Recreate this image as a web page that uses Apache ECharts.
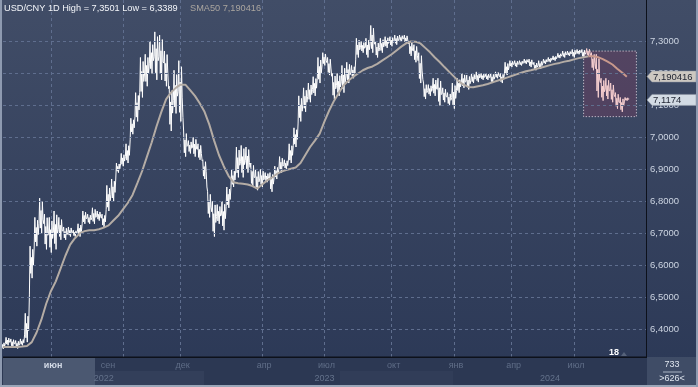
<!DOCTYPE html>
<html><head><meta charset="utf-8">
<script src="https://cdn.jsdelivr.net/npm/echarts/dist/echarts.min.js"></script>
<style>html,body{margin:0;padding:0;background:#2c3957;overflow:hidden}#c{width:698px;height:387px}</style>
</head><body><div id="c"></div>
<script>
// ---------- DATA ----------
const startWeek = '2022-03-21';
const weekCount = 135;
const highs = [
6.360,6.375,6.370,6.365,6.370,6.450,6.660,6.750,6.810,6.760,
6.750,6.770,6.750,6.720,6.720,6.710,6.730,6.770,6.760,6.780,
6.770,6.760,6.850,6.870,6.920,6.950,6.980,7.060,7.140,7.250,
7.260,7.300,7.330,7.320,7.270,7.160,7.210,7.240,7.020,6.990,
7.000,6.980,6.930,6.830,6.800,6.790,6.800,6.845,6.900,6.970,
6.975,6.970,6.920,6.900,6.900,6.890,6.890,6.910,6.940,6.930,
6.980,7.030,7.130,7.155,7.170,7.190,7.250,7.265,7.250,7.200,
7.200,7.225,7.235,7.225,7.310,7.300,7.310,7.350,7.300,7.310,
7.315,7.315,7.320,7.320,7.320,7.300,7.290,7.265,7.170,7.165,
7.185,7.185,7.155,7.140,7.170,7.185,7.200,7.195,7.200,7.205,
7.200,7.200,7.200,7.205,7.200,7.235,7.240,7.240,7.240,7.245,
7.245,7.235,7.240,7.245,7.250,7.255,7.263,7.270,7.270,7.275,
7.275,7.275,7.278,7.265,7.260,7.185,7.185,7.170,7.140,7.125,
7.125];
const lows = [
6.339,6.350,6.345,6.340,6.350,6.360,6.560,6.660,6.700,6.650,
6.640,6.650,6.680,6.680,6.690,6.690,6.690,6.730,6.730,6.730,
6.740,6.720,6.770,6.800,6.890,6.910,6.920,7.010,7.050,7.125,
7.160,7.200,7.180,7.180,7.160,7.020,7.075,7.050,6.940,6.950,
6.940,6.930,6.870,6.750,6.690,6.730,6.710,6.780,6.845,6.875,
6.875,6.890,6.845,6.835,6.845,6.860,6.830,6.870,6.890,6.900,
6.920,6.970,7.050,7.080,7.110,7.130,7.170,7.225,7.195,7.120,
7.130,7.140,7.170,7.185,7.250,7.265,7.250,7.265,7.250,7.265,
7.280,7.285,7.290,7.300,7.295,7.255,7.235,7.170,7.120,7.130,
7.130,7.100,7.110,7.100,7.090,7.140,7.155,7.150,7.170,7.173,
7.180,7.180,7.170,7.185,7.170,7.195,7.220,7.220,7.225,7.230,
7.220,7.210,7.215,7.230,7.235,7.240,7.248,7.250,7.255,7.250,
7.260,7.250,7.255,7.210,7.125,7.115,7.120,7.110,7.090,7.080,
7.115];
const sma50 = [
6.345,6.345,6.345,6.345,6.346,6.348,6.360,6.390,6.430,6.480,
6.520,6.550,6.590,6.630,6.665,6.685,6.700,6.707,6.710,6.710,
6.713,6.718,6.725,6.740,6.755,6.775,6.795,6.820,6.857,6.895,
6.940,6.985,7.035,7.080,7.120,7.140,7.155,7.165,7.165,7.148,
7.130,7.107,7.080,7.040,6.990,6.945,6.910,6.880,6.860,6.857,
6.855,6.853,6.848,6.840,6.853,6.865,6.874,6.885,6.893,6.898,
6.902,6.906,6.920,6.945,6.970,6.990,7.012,7.050,7.085,7.115,
7.140,7.163,7.178,7.190,7.200,7.210,7.217,7.222,7.230,7.240,
7.250,7.260,7.272,7.284,7.294,7.300,7.299,7.294,7.280,7.266,
7.250,7.236,7.220,7.205,7.190,7.175,7.165,7.158,7.157,7.160,
7.163,7.167,7.172,7.177,7.182,7.187,7.192,7.197,7.202,7.207,
7.210,7.214,7.218,7.222,7.226,7.230,7.233,7.237,7.240,7.244,
7.248,7.251,7.254,7.254,7.251,7.245,7.237,7.228,7.215,7.203,
7.190];
const lastPrice = 7.1174;
const smaLast = 7.190416;
const periodHigh = 7.3501;
const periodLow = 6.3389;
const gridValues = [6.4,6.5,6.6,6.7,6.8,6.9,7.0,7.1,7.2,7.3];
const monthTickIdx = [10,25,37,54,67,81,94,106,119];
const monthLabels = ['июн','сен','дек','апр','июл','окт','янв','апр','июл'];
const yearTickIdx = [21,67,114];
const yearLabels = ['2022','2023','2024'];
const boxStartIdx = 121, boxEndIdx = 132, boxHigh = 7.27, boxLow = 7.065;
const barsTotal = '733', barsVisible = '>626<', counterText = '18';

// ---------- BUILD ----------
const categories = [];
{ const d0 = new Date(startWeek + 'T00:00:00Z');
  for (let i = 0; i < weekCount; i++) {
    const d = new Date(d0.getTime() + i * 7 * 86400000);
    categories.push(d.toISOString().slice(0, 10));
  } }
const fmt = v => v.toFixed(4).replace('.', ',');
const FONT = 'Liberation Sans, Arial, sans-serif';
const chart = echarts.init(document.getElementById('c'), null, {renderer: 'canvas'});
const splitAt = boxStartIdx + 1;
const smaMain = sma50.map((v, i) => i <= splitAt ? v : null);
const smaBox = sma50.map((v, i) => i >= splitAt ? v : null);
const mids = highs.map((h, i) => (h + lows[i]) / 2);

const option = {
  animation: false,
  backgroundColor: new echarts.graphic.LinearGradient(0, 0, 0, 1, [
    {offset: 0, color: '#414d67'}, {offset: 1, color: '#2b3856'}]),
  grid: {left: 3, right: 52, top: 0, bottom: 25.7, containLabel: false, outerBoundsMode: 'none'},
  xAxis: {
    type: 'category', data: categories, boundaryGap: false,
    axisLine: {show: false}, axisTick: {show: false}, axisLabel: {show: false},
    splitLine: {show: true, interval: (idx) => monthTickIdx.includes(idx),
      lineStyle: {color: '#5f6e8e', type: [3, 3], width: 1}}
  },
  yAxis: {
    type: 'value', position: 'right', min: 6.3, max: 7.4297, interval: 0.1,
    axisLine: {show: false}, axisTick: {show: false}, splitLine: {show: false},
    axisLabel: {margin: 4, color: '#cdd5e2', fontSize: 9.5, fontFamily: FONT,
      formatter: v => (v < 6.35 || v > 7.35) ? '' : fmt(v)}
  },
  series: [
    { type: 'line', data: gridValues.map(() => null), silent: true, z: 1, showSymbol: false,
      markLine: {silent: true, symbol: ['none', 'none'], label: {show: false},
        lineStyle: {color: '#5f6e8e', type: [3, 3], width: 1},
        data: gridValues.map(v => ({yAxis: v}))},
      markArea: {silent: true,
        itemStyle: {color: 'rgba(112,60,92,0.42)', borderColor: '#e6dfe8', borderWidth: 1, borderType: [1, 2]},
        data: [[{xAxis: categories[boxStartIdx], yAxis: boxHigh}, {xAxis: categories[boxEndIdx], yAxis: boxLow}]]}
    },
    { type: 'custom', z: 3,
      data: highs.map((h, i) => [i, h, lows[i]]),
      encode: {x: 0, y: [1, 2]},
      renderItem: (params, api) => {
        const i = api.value(0);
        const pH = api.coord([i, api.value(1)]);
        const pL = api.coord([i, api.value(2)]);
        const w = api.size([1, 0])[0];
        const yv = v => api.coord([i, v])[1];
        const prevM = i > 0 ? mids[i - 1] : mids[i];
        const nextM = i < mids.length - 1 ? mids[i + 1] : mids[i];
        const s = yv((mids[i] + prevM) / 2), e = yv((mids[i] + nextM) / 2);
        const x = pH[0], h = pH[1], l = pL[1];
        const mix = (a, b, t) => a + (b - a) * t;
        const pts = [[x - w / 2, s], [x - 0.36 * w, h], [x - 0.22 * w, mix(l, h, 0.15)],
          [x - 0.08 * w, mix(h, l, 0.35)], [x + 0.06 * w, l], [x + 0.2 * w, mix(h, l, 0.1)],
          [x + 0.34 * w, mix(l, h, 0.4)], [x + w / 2, e]];
        return {type: 'polyline', shape: {points: pts},
          style: {stroke: i > boxStartIdx ? '#f7cfd0' : '#ffffff', lineWidth: 1, fill: null}};
      }
    },
    { type: 'line', data: smaMain, showSymbol: false, symbol: 'none', z: 4, connectNulls: false,
      lineStyle: {width: 2, color: '#b4aca5'} },
    { type: 'line', data: smaBox, showSymbol: false, symbol: 'none', z: 4, connectNulls: false,
      lineStyle: {width: 2, color: '#c8988c'} }
  ]
};
chart.setOption(option);

const g = [];
try {
const X = i => chart.convertToPixel({xAxisIndex: 0}, categories[i]);
const Y = v => chart.convertToPixel({yAxisIndex: 0}, v);
const Z = 100;
g.push({type: 'rect', z: Z, shape: {x: 0, y: 357, width: 647, height: 30}, style: {fill: '#2c3853'}});
g.push({type: 'rect', z: Z, shape: {x: 3, y: 358, width: 92, height: 27}, style: {fill: '#4b5871'}});
g.push({type: 'rect', z: Z, shape: {x: 95, y: 371, width: 109, height: 14}, style: {fill: '#333f5a'}});
g.push({type: 'rect', z: Z, shape: {x: 340, y: 371, width: 113, height: 14}, style: {fill: '#313d58'}});
g.push({type: 'rect', z: Z, shape: {x: 3, y: 356.5, width: 644, height: 1.5}, style: {fill: '#0d111b'}});
g.push({type: 'rect', z: Z, shape: {x: 646, y: 0, width: 1, height: 358}, style: {fill: '#0d111b'}});
g.push({type: 'rect', z: Z, shape: {x: 647, y: 357, width: 51, height: 30}, style: {fill: '#3f4c66'}});
g.push({type: 'text', z: Z + 1, style: {x: 672, y: 365, text: barsTotal, fill: '#dfe5ee', font: '9px ' + FONT, align: 'center', verticalAlign: 'middle'}});
g.push({type: 'rect', z: Z + 1, shape: {x: 663, y: 371.5, width: 19, height: 1}, style: {fill: '#aab4c4'}});
g.push({type: 'text', z: Z + 1, style: {x: 672, y: 379, text: barsVisible, fill: '#dfe5ee', font: '9px ' + FONT, align: 'center', verticalAlign: 'middle'}});
monthTickIdx.forEach((idx, k) => {
  const dx = k === 1 ? -15 : 2;
  g.push({type: 'text', z: Z + 1, style: {x: X(idx) + dx, y: 366, text: monthLabels[k],
    fill: k === 0 ? '#d3dae6' : '#5f6d87', font: (k === 0 ? 'bold ' : '') + '9px ' + FONT, align: 'center', verticalAlign: 'middle'}});
});
yearTickIdx.forEach((idx, k) => {
  g.push({type: 'text', z: Z + 1, style: {x: X(idx), y: 378.5, text: yearLabels[k],
    fill: '#64728b', font: '9px ' + FONT, align: 'center', verticalAlign: 'middle'}});
});
g.push({type: 'text', z: Z + 1, style: {x: 614, y: 352.5, text: counterText, fill: '#ffffff', font: 'bold 9px ' + FONT, align: 'center', verticalAlign: 'middle'}});
g.push({type: 'polygon', z: Z + 1, shape: {points: [[621, 356], [627, 356], [624, 352]]}, style: {fill: '#56627a'}});
g.push({type: 'text', z: Z + 1, style: {x: 4, y: 8, text: 'USD/CNY 1D High = ' + fmt(periodHigh) + ' Low = ' + fmt(periodLow),
  fill: '#f4f6fa', font: '9.2px ' + FONT, verticalAlign: 'middle'}});
g.push({type: 'text', z: Z + 1, style: {x: 190, y: 8, text: 'SMA50 ' + smaLast.toFixed(6).replace('.', ','),
  fill: '#aaa59f', font: '9.2px ' + FONT, verticalAlign: 'middle'}});
const tag = (v, label, fill) => {
  const yc = Y(v);
  g.push({type: 'polygon', z: Z + 2, shape: {points: [[647, yc], [652, yc - 5.5], [696, yc - 5.5], [696, yc + 5.5], [652, yc + 5.5]]},
    style: {fill: fill, stroke: '#8f96a2', lineWidth: 0.5}});
  g.push({type: 'text', z: Z + 3, style: {x: 653, y: yc + 0.5, text: label, fill: '#1d2230', font: '9.5px ' + FONT, verticalAlign: 'middle'}});
};
tag(smaLast, smaLast.toFixed(6).replace('.', ','), '#cdc8c1');
tag(lastPrice, fmt(lastPrice), '#d3dbe4');
g.push({type: 'rect', z: Z + 5, shape: {x: 0, y: 0, width: 2, height: 387}, style: {fill: '#8e9ab0'}});
g.push({type: 'rect', z: Z + 5, shape: {x: 0, y: 385, width: 698, height: 2}, style: {fill: '#9aa6b8'}});
g.push({type: 'rect', z: Z + 5, shape: {x: 696, y: 0, width: 2, height: 387}, style: {fill: '#8e9ab0'}});
} catch (e) { console.error(e); }
chart.setOption({graphic: g});
</script>
</body></html>
